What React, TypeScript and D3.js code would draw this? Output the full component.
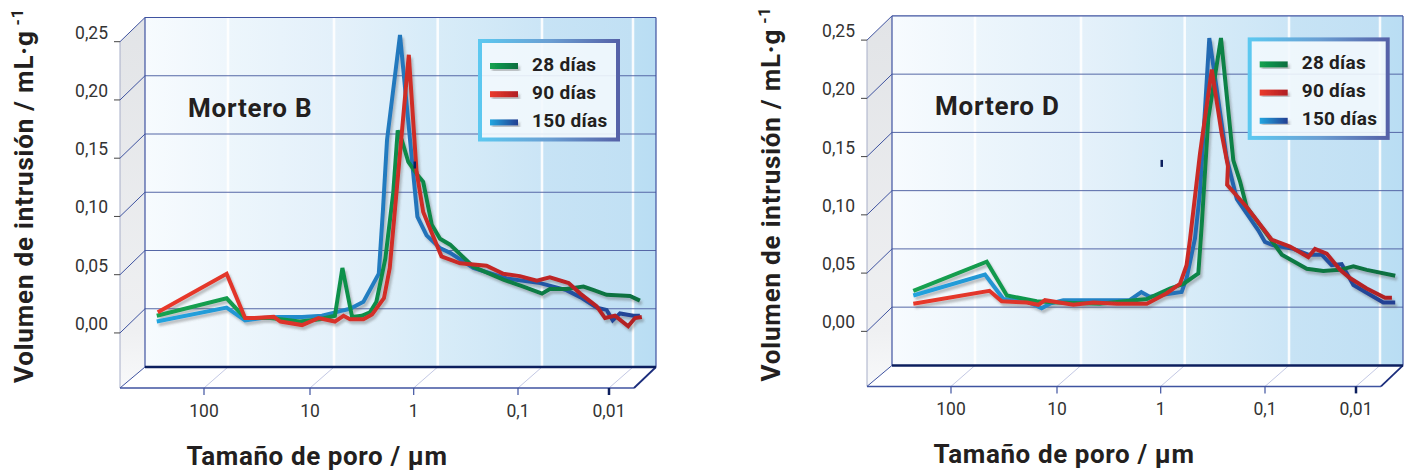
import * as d3 from "d3";

// pore size (µm) vs intrusion volume (mL/g)
const morteroB28: [number, number][] = [
  [470, -0.006], [103, 0.009], [69, -0.008], [40, -0.008], [21, -0.011], [13.6, -0.009], [9.8, -0.006],
  [8.3, 0.035], [6.7, -0.007], [5.4, -0.006], [4.5, -0.003], [3.9, 0.006], [3.2, 0.043], [2.68, 0.1],
  [2.43, 0.153], [2.22, 0.145], [1.92, 0.126], [1.57, 0.115], [1.38, 0.109], [1.14, 0.072], [0.95, 0.06],
  [0.76, 0.055], [0.456, 0.036], [0.235, 0.025], [0.151, 0.019], [0.1, 0.013], [0.082, 0.017], [0.054, 0.017],
  [0.035, 0.019], [0.027, 0.016], [0.0195, 0.012], [0.0108, 0.011], [0.0084, 0.007],
];
const morteroB90: [number, number][] = [
  [460, -0.003], [103, 0.03], [69, -0.008], [56, -0.008], [37, -0.007], [32, -0.011], [20, -0.014], [14, -0.008],
  [9.8, -0.011], [8.1, -0.006], [7.0, -0.009], [5.2, -0.009], [4.3, -0.005], [3.3, 0.009], [2.9, 0.035],
  [1.9, 0.218], [1.6, 0.118], [1.38, 0.083], [1.19, 0.069], [0.92, 0.045], [0.61, 0.039], [0.34, 0.037],
  [0.235, 0.03], [0.163, 0.028], [0.112, 0.024], [0.082, 0.027], [0.051, 0.022], [0.038, 0.013], [0.025, 0.002],
  [0.0203, -0.008], [0.0158, -0.006], [0.0113, -0.015], [0.0095, -0.008], [0.008, -0.007],
];
const morteroB150: [number, number][] = [
  [470, -0.011], [103, 0.001], [69, -0.01], [48, -0.008], [33.5, -0.007], [20, -0.007], [13, -0.006], [8.7, -0.002],
  [7.0, 0.0], [5.2, 0.006], [3.7, 0.03], [3.37, 0.085], [3.08, 0.145], [2.31, 0.235], [1.57, 0.079], [1.28, 0.063],
  [0.95, 0.052], [0.76, 0.048], [0.456, 0.035], [0.218, 0.026], [0.104, 0.022], [0.075, 0.019], [0.054, 0.016],
  [0.038, 0.01], [0.025, 0.001], [0.0195, -0.001], [0.0167, -0.01], [0.0139, -0.004], [0.0099, -0.006], [0.0084, -0.006],
];

const morteroD28: [number, number][] = [
  [382, 0.014], [77.5, 0.039], [50, 0.01], [26.2, 0.005], [16.9, 0.004], [6.6, 0.003], [2.32, 0.007], [1.39, 0.016],
  [1.03, 0.02], [0.74, 0.029], [0.687, 0.07], [0.594, 0.162], [0.449, 0.231], [0.342, 0.126], [0.295, 0.108],
  [0.255, 0.086], [0.164, 0.063], [0.117, 0.045], [0.0638, 0.033], [0.042, 0.031], [0.0275, 0.032], [0.0196, 0.035],
  [0.014, 0.032], [0.0068, 0.027],
];
const morteroD90: [number, number][] = [
  [382, 0.003], [73, 0.014], [56, 0.005], [32.5, 0.004], [25.3, 0.002], [21.9, 0.006], [11.8, 0.002], [7.6, 0.004],
  [4.5, 0.003], [2.32, 0.003], [1.49, 0.012], [1.11, 0.02], [0.96, 0.036], [0.89, 0.058], [0.713, 0.132], [0.55, 0.204],
  [0.442, 0.149], [0.385, 0.121], [0.392, 0.105], [0.255, 0.086], [0.147, 0.058], [0.0975, 0.052], [0.0614, 0.043],
  [0.0518, 0.05], [0.0385, 0.046], [0.0275, 0.032], [0.0214, 0.025], [0.014, 0.016], [0.0088, 0.008], [0.0074, 0.008],
];
const morteroD150: [number, number][] = [
  [382, 0.01], [80.5, 0.028], [54, 0.007], [32.5, 0.005], [23.5, -0.001], [19.6, 0.003], [14.7, 0.006], [3.4, 0.006],
  [2.62, 0.013], [2.18, 0.009], [1.07, 0.013], [0.957, 0.025], [0.797, 0.059], [0.713, 0.099], [0.581, 0.231],
  [0.396, 0.128], [0.317, 0.093], [0.197, 0.066], [0.17, 0.056], [0.1415, 0.053], [0.0897, 0.05], [0.0614, 0.045],
  [0.0437, 0.045], [0.034, 0.036], [0.0264, 0.037], [0.0196, 0.019], [0.0092, 0.004], [0.0068, 0.004],
];

const seriesNames = ["28 días", "90 días", "150 días"];
const yTicks = [0, 0.05, 0.1, 0.15, 0.2, 0.25];
const yTickLabels = ["0,00", "0,05", "0,10", "0,15", "0,20", "0,25"];
const xTicks = [100, 10, 1, 0.1, 0.01];
const xTickLabels = ["100", "10", "1", "0,1", "0,01"];

// back wall box
const BL = 145, BR = 656, BT = 17.5, BB = 367;
const DX = 25, DY = 24.2; // depth offset of the side wall
const FY = 388, FR = 634; // front edge of the floor

const x = d3.scaleLog().domain([100, 10, 1, 0.1, 0.01]).range([228, 334, 437.7, 542, 633]);
const y = d3.scaleLinear().domain([-0.05, 0.25]).range([BB, BT]);
const line = d3.line<[number, number]>().x(d => x(d[0])).y(d => y(d[1]));

const font = "Roboto, 'DejaVu Sans', sans-serif";
const ink = "#231f20";
const gradIds = ["gGreen", "gRed", "gBlue"];

function Panel({ title, series, tx, ty, legendX }: any) {
  const order = [2, 0, 1]; // blue under, red on top
  return (
    <g transform={`translate(${tx},${ty})`}>
      {/* side wall */}
      <polygon points={`${BL - DX},${BT + DY} ${BL},${BT} ${BL},${BB} ${BL - DX},${FY}`} fill="url(#wallGrad)" />
      <line x1={BL - DX} y1={BT + DY} x2={BL - DX} y2={FY} stroke="#a7aec8" strokeWidth={1} />
      {/* floor */}
      <polygon points={`${BL - DX},${FY} ${BL},${BB} ${BR},${BB} ${FR},${FY}`} fill="#ffffff" />
      {xTicks.map(t => (
        <line key={t} x1={x(t) - 24} y1={FY} x2={x(t)} y2={BB} stroke="#c3c8e4" strokeWidth={1} />
      ))}
      {/* back wall */}
      <rect x={BL} y={BT} width={BR - BL} height={BB - BT} fill="url(#backGrad)" />
      {xTicks.map(t => (
        <line key={t} x1={x(t)} y1={BT} x2={x(t)} y2={BB} stroke="#ffffff" strokeWidth={2.5} opacity={0.9} />
      ))}
      {yTicks.slice(0, 5).map(t => (
        <line key={t} x1={BL} y1={y(t)} x2={BR} y2={y(t)} stroke="#5567a6" strokeWidth={1} />
      ))}
      <line x1={BL} y1={BT} x2={BR} y2={BT} stroke="#3f53a0" strokeWidth={1.2} />
      <line x1={BR} y1={BT} x2={BR} y2={BB} stroke="#3f53a0" strokeWidth={1.2} />
      <line x1={BL} y1={BT} x2={BL} y2={BB} stroke="#3f53a0" strokeWidth={1.2} />
      {/* wall diagonals and y ticks */}
      {yTicks.map((t, i) => (
        <g key={t}>
          <line x1={BL - DX} y1={y(t) + DY} x2={BL} y2={y(t)} stroke="#3f53a0" strokeWidth={1} />
          <line x1={BL - DX - 6} y1={y(t) + DY} x2={BL - DX} y2={y(t) + DY} stroke="#444" strokeWidth={1} />
          <text x={108} y={y(t) + DY - 3} textAnchor="end" fontFamily={font} fontSize={17.5} fill="#333">
            {yTickLabels[i]}
          </text>
        </g>
      ))}
      <line x1={BL - DX} y1={FY} x2={BL} y2={BB} stroke="#3f53a0" strokeWidth={1} />
      {/* floor edges */}
      <line x1={BL - DX} y1={FY} x2={FR} y2={FY} stroke="#3f53a0" strokeWidth={1.5} />
      <line x1={FR} y1={FY} x2={BR} y2={BB} stroke="#1b2d7c" strokeWidth={1.8} />
      <line x1={BL} y1={BB} x2={BR} y2={BB} stroke="#0c1f5e" strokeWidth={2.5} />
      {xTicks.map((t, i) => (
        <g key={t}>
          <line x1={x(t) - 24} y1={FY} x2={x(t) - 24} y2={FY + 7}
            stroke={i === 4 ? "#0c1f5e" : "#3f53a0"} strokeWidth={i === 4 ? 2.5 : 1.2} />
          <text x={x(t) - 24} y={416.5} textAnchor="middle" fontFamily={font} fontSize={17.5} fill="#333">
            {xTickLabels[i]}
          </text>
        </g>
      ))}
      {/* series */}
      <g filter="url(#shadow)">
        {order.map(k => (
          <path key={k} d={line(series[k]) || ""} fill="none" stroke={`url(#${gradIds[k]})`}
            strokeWidth={4} strokeLinejoin="miter" strokeMiterlimit={3} />
        ))}
      </g>
      <rect x={413.5} y={161.5} width={2.5} height={7} fill="#0c1f5e" />
      <text x={188} y={117} fontFamily={font} fontSize={26} fontWeight={700} letterSpacing={0.8} fill={ink}>{title}</text>
      {/* legend */}
      <g transform={`translate(${legendX},39)`}>
        <rect x={2} y={2} width={138} height={98.5} fill="#f2f8fd" fillOpacity={0.9}
          stroke="url(#legendGrad)" strokeWidth={4} />
        {seriesNames.map((n, i) => (
          <g key={n} transform={`translate(0,${24 + i * 28.2})`}>
            <rect x={12} y={0} width={28} height={6} fill={`url(#${gradIds[i]}S)`} filter="url(#shadow)" />
            <text x={54} y={7.5} fontFamily={font} fontSize={19} fontWeight={700} letterSpacing={0.3} fill={ink}>{n}</text>
          </g>
        ))}
      </g>
      {/* axis titles */}
      <text transform="translate(33,383) rotate(-90)" fontFamily={font} fontSize={26} fontWeight={700}
        letterSpacing={0.8} fill={ink}>
        Volumen de intrusión / mL·g<tspan fontSize={16} dx={5} dy={-10}>-1</tspan>
      </text>
      <text x={317} y={465} textAnchor="middle" fontFamily={font} fontSize={26} fontWeight={700}
        letterSpacing={0.6} fill={ink}>
        Tamaño de poro / µm
      </text>
    </g>
  );
}

const lineGrads = [
  ["#13a350", "#0b6e40"],
  ["#ea3a2c", "#b01f24"],
  ["#22a6e0", "#243f92"],
];

export default function App() {
  return (
    <div style={{ position: "absolute", left: 0, top: 0 }}>
      <svg width={1406} height={471} style={{ display: "block", background: "#fff" }}>
        <defs>
          <linearGradient id="wallGrad" x1="0" y1="0" x2="0" y2="1">
            <stop offset="0" stopColor="#e2e4e7" />
            <stop offset="0.85" stopColor="#eff0f2" />
            <stop offset="1" stopColor="#f8f9fa" />
          </linearGradient>
          <linearGradient id="backGrad" x1="0" y1="0" x2="1" y2="0">
            <stop offset="0" stopColor="#f7fbfe" />
            <stop offset="0.162" stopColor="#eef6fc" />
            <stop offset="0.162" stopColor="#edf6fc" />
            <stop offset="0.37" stopColor="#e3f0fa" />
            <stop offset="0.37" stopColor="#e5f1fa" />
            <stop offset="0.573" stopColor="#d6ebf8" />
            <stop offset="0.573" stopColor="#d8ecf8" />
            <stop offset="0.777" stopColor="#cbe5f6" />
            <stop offset="0.777" stopColor="#c7e3f5" />
            <stop offset="0.955" stopColor="#c1e0f4" />
            <stop offset="0.955" stopColor="#bcdff3" />
            <stop offset="1" stopColor="#b9ddf3" />
          </linearGradient>
          <linearGradient id="legendGrad" x1="0" y1="0" x2="1" y2="0">
            <stop offset="0" stopColor="#5cc8f0" />
            <stop offset="0.5" stopColor="#6a9fd3" />
            <stop offset="1" stopColor="#5662a8" />
          </linearGradient>
          {lineGrads.map((c, i) => (
            <g key={i}>
              <linearGradient id={gradIds[i]} gradientUnits="userSpaceOnUse" x1={150} y1={0} x2={650} y2={0}>
                <stop offset="0" stopColor={c[0]} />
                <stop offset="0.5" stopColor={d3.interpolateRgb(c[0], c[1])(0.45)} />
                <stop offset="1" stopColor={c[1]} />
              </linearGradient>
              <linearGradient id={`${gradIds[i]}S`} x1="0" y1="0" x2="1" y2="0">
                <stop offset="0" stopColor={c[0]} />
                <stop offset="1" stopColor={c[1]} />
              </linearGradient>
            </g>
          ))}
          <filter id="shadow" x="-10%" y="-10%" width="130%" height="130%">
            <feDropShadow dx={2} dy={3} stdDeviation={1.3} floodColor="#555" floodOpacity={0.35} />
          </filter>
        </defs>
        <Panel title="Mortero B" series={[morteroB28, morteroB90, morteroB150]} tx={0} ty={0} legendX={478} />
        <Panel title="Mortero D" series={[morteroD28, morteroD90, morteroD150]} tx={747} ty={-1.6} legendX={500.7} />
      </svg>
    </div>
  );
}
